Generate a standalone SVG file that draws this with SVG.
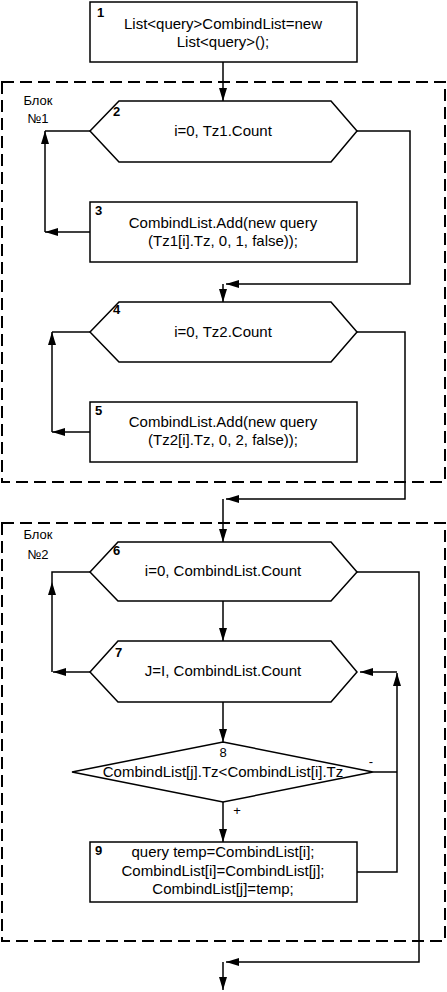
<svg xmlns="http://www.w3.org/2000/svg" width="447" height="992" viewBox="0 0 447 992">
<style>
.s{fill:#fff;stroke:#000;stroke-width:1.5}
.c{fill:none;stroke:#000;stroke-width:1.5}
.a{marker-end:url(#ah)}
.blk{fill:none;stroke:#000;stroke-width:2;stroke-dasharray:12 6}
text{font-family:"Liberation Sans",Arial,sans-serif;fill:#000}
.t{font-size:15px;text-anchor:middle}
.n{font-size:13px;font-weight:bold}
.l{font-size:13px;text-anchor:middle}
</style>
<defs>
<marker id="ah" markerUnits="userSpaceOnUse" markerWidth="14" markerHeight="10" refX="13" refY="4" orient="auto">
<path d="M0,0 L13,4 L0,8 z" fill="#000"/>
</marker>
</defs>
<rect width="447" height="992" fill="#fff"/>
<g id="block1">
<rect class="blk" x="2" y="82" width="443" height="400"/>
<text class="l" x="38" y="105">Блок</text>
<text class="l" x="38" y="123">№1</text>
</g>
<g id="block2">
<rect class="blk" x="2" y="523" width="443" height="418"/>
<text class="l" x="38" y="539">Блок</text>
<text class="l" x="38" y="559">№2</text>
</g>
<g id="connectors">
<path class="c a" d="M223,62 V101"/>
<path class="c a" d="M90,232 H45"/>
<path class="c a" d="M45,232 V131"/>
<path class="c" d="M45,131 H90"/>
<path class="c a" d="M357,131 H410 V284 H226"/>
<path class="c a" d="M223,284 V302"/>
<path class="c a" d="M90,432 H52"/>
<path class="c a" d="M52,432 V332"/>
<path class="c" d="M52,332 H90"/>
<path class="c a" d="M357,332 H405 V499 H226"/>
<path class="c a" d="M223,499 V542"/>
<path class="c a" d="M223,601 V641"/>
<path class="c a" d="M90,672 H53"/>
<path class="c a" d="M52,672 V582"/>
<path class="c" d="M52,582 V572 H90"/>
<path class="c a" d="M357,572 H419 V962 H226"/>
<path class="c a" d="M223,962 V990"/>
<path class="c a" d="M223,702 V742"/>
<path class="c a" d="M223,802 V842"/>
<path class="c a" d="M357,872 H397 V673"/>
<path class="c a" d="M397,672 H360"/>
<path class="c" d="M373,772 H397"/>
<text class="l" x="371" y="766">-</text>
<text class="l" x="237" y="815">+</text>
</g>
<g id="n1">
<rect class="s" x="90" y="2" width="267" height="60"/>
<text class="n" x="97" y="17">1</text>
<text class="t" x="223" y="29">List&lt;query&gt;CombindList=new</text>
<text class="t" x="223" y="47">List&lt;query&gt;();</text>
</g>
<g id="n2">
<polygon class="s" points="90,131 119,101 331,101 357,131 331,162 119,162"/>
<text class="n" x="113" y="116">2</text>
<text class="t" x="223" y="136">i=0, Tz1.Count</text>
</g>
<g id="n3">
<rect class="s" x="90" y="202" width="267" height="60"/>
<text class="n" x="95" y="215">3</text>
<text class="t" x="223" y="228">CombindList.Add(new query</text>
<text class="t" x="223" y="246">(Tz1[i].Tz, 0, 1, false));</text>
</g>
<g id="n4">
<polygon class="s" points="90,332 119,302 331,302 357,332 331,362 119,362"/>
<text class="n" x="113" y="314">4</text>
<text class="t" x="223" y="337">i=0, Tz2.Count</text>
</g>
<g id="n5">
<rect class="s" x="90" y="402" width="267" height="60"/>
<text class="n" x="95" y="415">5</text>
<text class="t" x="223" y="427">CombindList.Add(new query</text>
<text class="t" x="223" y="445">(Tz2[i].Tz, 0, 2, false));</text>
</g>
<g id="n6">
<polygon class="s" points="90,572 118,542 331,542 357,572 331,601 118,601"/>
<text class="n" x="113" y="555">6</text>
<text class="t" x="223" y="576">i=0, CombindList.Count</text>
</g>
<g id="n7">
<polygon class="s" points="90,672 118,641 331,641 357,672 331,702 118,702"/>
<text class="n" x="115" y="657">7</text>
<text class="t" x="223" y="676">J=I, CombindList.Count</text>
</g>
<g id="n8">
<polygon class="s" points="223,742 373,772 223,802 72,772"/>
<text class="l" x="223" y="757">8</text>
<text class="t" x="223" y="777">CombindList[j].Tz&lt;CombindList[i].Tz</text>
</g>
<g id="n9">
<rect class="s" x="90" y="842" width="267" height="60"/>
<text class="n" x="95" y="855">9</text>
<text class="t" x="223" y="857">query temp=CombindList[i];</text>
<text class="t" x="223" y="876">CombindList[i]=CombindList[j];</text>
<text class="t" x="223" y="894">CombindList[j]=temp;</text>
</g>
</svg>
